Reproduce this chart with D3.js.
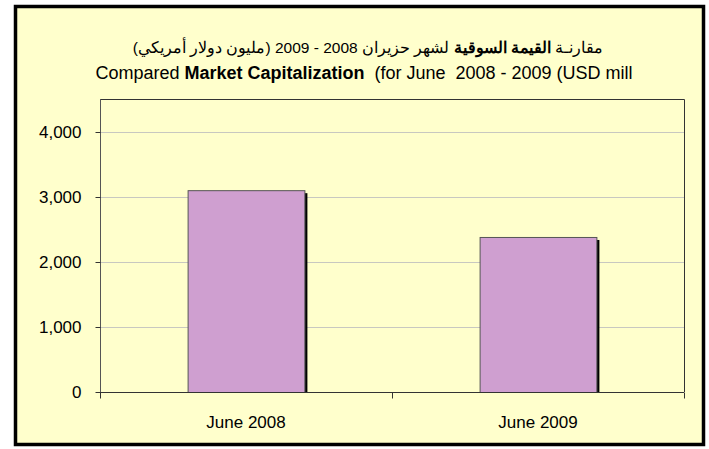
<!DOCTYPE html>
<html>
<head>
<meta charset="utf-8">
<script src="https://cdn.jsdelivr.net/npm/d3@7"></script>
<style>
  body { margin: 0; background: #fff; }
  svg { display: block; font-family: "Liberation Sans", Arial, sans-serif; }
</style>
</head>
<body>
<div id="chart"></div>
<script>
// chart data
var categories = ['June 2008', 'June 2009'];
var values = [3105, 2385];
var yTicks = [0, 1000, 2000, 3000, 4000];

var width = 709, height = 449;
var plot = { left: 100, right: 684, top: 99, bottom: 392 };

var svg = d3.select('#chart').append('svg')
    .attr('width', width)
    .attr('height', height);

// outer frame
svg.append('rect')
    .attr('x', 15.5).attr('y', 6.5)
    .attr('width', 688).attr('height', 438)
    .attr('fill', '#ffffcc')
    .attr('stroke', '#000')
    .attr('stroke-width', 3.5);

// titles
var t1 = svg.append('text')
    .attr('x', 368).attr('y', 53)
    .attr('text-anchor', 'middle')
    .attr('direction', 'rtl')
    .attr('font-size', 15.5)
    .attr('fill', '#000')
    .attr('xml:space', 'preserve');
t1.append('tspan').text('مقارنـة ');
t1.append('tspan').attr('font-weight', 'bold').text('القيمة السوقية');
t1.append('tspan').text(' لشهر حزيران 2008 - 2009 (مليون دولار أمريكي)');

var t2 = svg.append('text')
    .attr('x', 364).attr('y', 79)
    .attr('text-anchor', 'middle')
    .attr('font-size', 18)
    .attr('fill', '#000')
    .attr('xml:space', 'preserve');
t2.append('tspan').text('Compared ');
t2.append('tspan').attr('font-weight', 'bold').text('Market Capitalization');
t2.append('tspan').text('  (for June  2008 - 2009 (USD mill');

var x = d3.scaleBand()
    .domain(categories)
    .range([plot.left, plot.right])
    .paddingInner(0.6)
    .paddingOuter(0.3);

var y = d3.scaleLinear()
    .domain([0, 4000])
    .range([plot.bottom, 132]);

// gridlines
svg.append('g').selectAll('line')
    .data(yTicks.slice(1))
    .enter().append('line')
    .attr('x1', plot.left).attr('x2', plot.right)
    .attr('y1', function (d) { return Math.round(y(d)) + 0.5; })
    .attr('y2', function (d) { return Math.round(y(d)) + 0.5; })
    .attr('stroke', '#c8c8c0')
    .attr('stroke-width', 1);

// plot border (top and right)
svg.append('path')
    .attr('d', 'M' + plot.left + ',' + (plot.top + 0.5) + 'H' + (plot.right + 0.5) + 'V' + plot.bottom)
    .attr('fill', 'none')
    .attr('stroke', '#333')
    .attr('stroke-width', 1);

// bar shadows
svg.append('g').selectAll('rect')
    .data(values)
    .enter().append('rect')
    .attr('x', function (d, i) { return x(categories[i]) + 3; })
    .attr('y', function (d) { return y(d) + 3; })
    .attr('width', x.bandwidth())
    .attr('height', function (d) { return plot.bottom - y(d) - 3; })
    .attr('fill', '#000');

// bars
svg.append('g').selectAll('rect')
    .data(values)
    .enter().append('rect')
    .attr('x', function (d, i) { return x(categories[i]) + 0.5; })
    .attr('y', function (d) { return y(d) + 0.5; })
    .attr('width', x.bandwidth())
    .attr('height', function (d) { return plot.bottom - y(d); })
    .attr('fill', '#cf9fd0')
    .attr('stroke', '#555')
    .attr('stroke-width', 1);

// y axis
var yAxis = svg.append('g')
    .attr('transform', 'translate(' + (plot.left + 0.5) + ',0)')
    .call(d3.axisLeft(y).tickValues(yTicks).tickSize(5).tickPadding(14)
        .tickFormat(d3.format(',')));
yAxis.select('.domain').attr('stroke', '#555').attr('d', 'M0,' + plot.top + 'V' + (plot.bottom + 6));
yAxis.selectAll('.tick line').attr('stroke', '#333');
yAxis.selectAll('text').attr('font-size', 17).attr('fill', '#000')
    .attr('font-family', '"Liberation Sans", Arial, sans-serif');

// x axis with ticks at category boundaries
var xAxisG = svg.append('g')
    .attr('transform', 'translate(0,' + (plot.bottom + 0.5) + ')');
xAxisG.append('line')
    .attr('x1', plot.left).attr('x2', plot.right)
    .attr('stroke', '#333');
var step = (plot.right - plot.left) / categories.length;
xAxisG.selectAll('.bt')
    .data(d3.range(categories.length + 1))
    .enter().append('line')
    .attr('x1', function (d) { return plot.left + d * step + 0.5; })
    .attr('x2', function (d) { return plot.left + d * step + 0.5; })
    .attr('y1', 0).attr('y2', 6)
    .attr('stroke', '#333');
xAxisG.selectAll('text')
    .data(categories)
    .enter().append('text')
    .attr('x', function (d) { return x(d) + x.bandwidth() / 2; })
    .attr('y', 35)
    .attr('text-anchor', 'middle')
    .attr('font-size', 17)
    .attr('fill', '#000')
    .text(function (d) { return d; });
</script>
</body>
</html>
